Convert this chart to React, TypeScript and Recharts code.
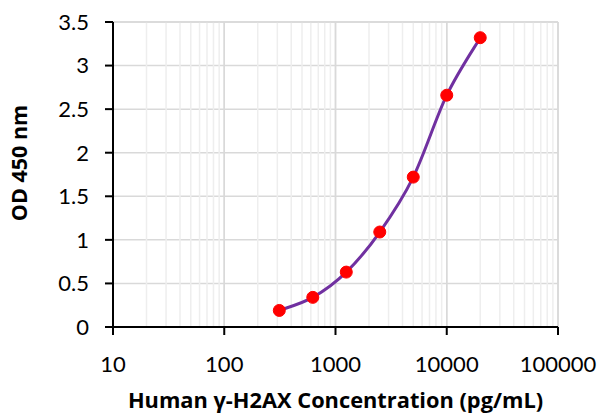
import { LineChart, Line, XAxis, YAxis, CartesianGrid, ReferenceLine, Label } from 'recharts'

const concentrations = [312.5, 625, 1250, 2500, 5000, 10000, 20000]
const odValues = [0.19, 0.34, 0.63, 1.09, 1.72, 2.66, 3.32]
const xTicks = [10, 100, 1000, 10000, 100000]
const yTicks = [0, 0.5, 1, 1.5, 2, 2.5, 3, 3.5]
const minorX = [
  20, 30, 40, 50, 60, 70, 80, 90,
  200, 300, 400, 500, 600, 700, 800, 900,
  2000, 3000, 4000, 5000, 6000, 7000, 8000, 9000,
  20000, 30000, 40000, 50000, 60000, 70000, 80000, 90000,
]

const data = concentrations.map((c, i) => ({ conc: c, od: odValues[i] }))

const FONT = 'Lato, "Open Sans", sans-serif'
const TITLE_FONT = '"Open Sans", Lato, sans-serif'

// excel-style smoothed line (catmull-rom through the points)
function smoothCurve(context: any) {
  let pts: number[][] = []
  return {
    areaStart() {},
    areaEnd() {},
    lineStart() {
      pts = []
    },
    point(x: number, y: number) {
      pts.push([+x, +y])
    },
    lineEnd() {
      if (!pts.length) return
      context.moveTo(pts[0][0], pts[0][1])
      for (let i = 0; i < pts.length - 1; i++) {
        const p0 = pts[i - 1] || pts[i]
        const p1 = pts[i]
        const p2 = pts[i + 1]
        const p3 = pts[i + 2] || p2
        context.bezierCurveTo(
          p1[0] + (p2[0] - p0[0]) / 6,
          p1[1] + (p2[1] - p0[1]) / 6,
          p2[0] - (p3[0] - p1[0]) / 6,
          p2[1] - (p3[1] - p1[1]) / 6,
          p2[0],
          p2[1]
        )
      }
    },
  }
}

export default function App() {
  return (
    <div style={{ position: 'absolute', left: 0, top: 0, background: '#fff' }}>
      <LineChart width={600} height={414} data={data} margin={{ top: 22, right: 42, left: 0, bottom: 0 }}>
        <CartesianGrid stroke="#d9d9d9" strokeWidth={1.5} />
        {minorX.map((v) => (
          <ReferenceLine key={v} x={v} stroke="#eeeeee" strokeWidth={1.5} />
        ))}
        {xTicks.slice(1, -1).map((v) => (
          <ReferenceLine key={'m' + v} x={v} stroke="#d9d9d9" strokeWidth={1.5} />
        ))}
        <ReferenceLine y={3.5} stroke="#d9d9d9" strokeWidth={1.5} />
        <ReferenceLine x={100000} stroke="#d9d9d9" strokeWidth={1.5} />
        <XAxis
          dataKey="conc"
          type="number"
          scale="log"
          domain={[10, 100000]}
          ticks={xTicks}
          allowDataOverflow
          height={87}
          stroke="#000"
          strokeWidth={2}
          tickSize={8}
          tickMargin={21}
          tick={{ fill: '#000', fontSize: 22, fontFamily: FONT }}
        >
          <Label
            value="Human γ-H2AX Concentration (pg/mL)"
            position="insideBottom"
            offset={6}
            style={{ fill: '#000', fontSize: 21.8, fontWeight: 700, fontFamily: TITLE_FONT }}
          />
        </XAxis>
        <YAxis
          type="number"
          domain={[0, 3.5]}
          ticks={yTicks}
          width={113}
          stroke="#000"
          strokeWidth={2}
          tickSize={8}
          tickMargin={16}
          tick={{ fill: '#000', fontSize: 22, fontFamily: FONT }}
        >
          <Label
            content={() => (
              <text
                x={18}
                y={163}
                transform="rotate(-90 18 163)"
                textAnchor="middle"
                dominantBaseline="central"
                style={{ fill: '#000', fontSize: 21.5, fontWeight: 700, fontFamily: TITLE_FONT }}
              >
                OD 450 nm
              </text>
            )}
          />
        </YAxis>
        <Line
          dataKey="od"
          type={smoothCurve as any}
          stroke="#7030a0"
          strokeWidth={3}
          isAnimationActive={false}
          dot={{ r: 6, fill: '#ff0000', stroke: '#ff0000', strokeWidth: 1 }}
          activeDot={false}
        />
      </LineChart>
    </div>
  )
}
